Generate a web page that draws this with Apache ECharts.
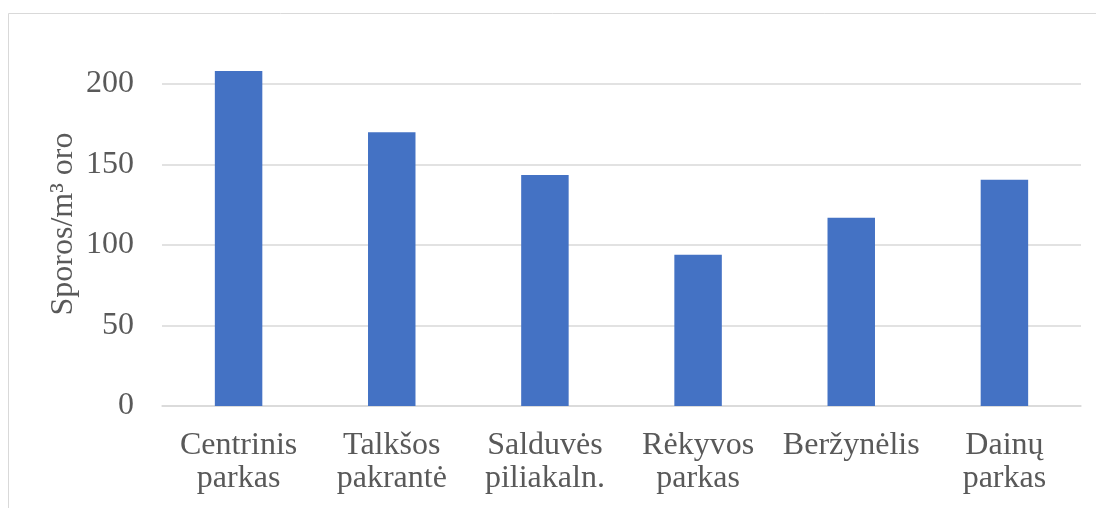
<!DOCTYPE html>
<html>
<head>
<meta charset="utf-8">
<script src="https://cdn.jsdelivr.net/npm/echarts@6/dist/echarts.min.js"></script>
<style>
  html, body { margin: 0; padding: 0; background: #fff; }
  #chart { width: 1096px; height: 508px; }
</style>
</head>
<body>
<div id="chart"></div>
<script>
// Spore concentration per cubic metre of air at six city sites
const categories = ['Centrinis\nparkas', 'Talkšos\npakrantė', 'Salduvės\npiliakaln.', 'Rėkyvos\nparkas', 'Beržynėlis', 'Dainų\nparkas'];
const spores = [208, 170, 143.5, 94, 117, 140.5];
const yTicks = { min: 0, max: 200, interval: 50 };
const yTitle = 'Sporos/m³ oro';

const textColor = '#595959';
const gridColor = '#D9D9D9';
const font = '"Liberation Serif", "Times New Roman", serif';

const chart = echarts.init(document.getElementById('chart'), null, { renderer: 'canvas' });
chart.setOption({
  animation: false,
  backgroundColor: '#ffffff',
  grid: { left: 162, right: 15, top: 84, bottom: 102, containLabel: false },
  graphic: [
    {
      type: 'rect',
      shape: { x: 8.5, y: 13.5, width: 1200, height: 600 },
      style: { fill: 'none', stroke: gridColor, lineWidth: 1 },
      silent: true, z: -1
    },
    {
      type: 'text',
      x: 64, y: 224,
      rotation: Math.PI / 2,
      style: {
        text: yTitle,
        font: '32px ' + font,
        fill: textColor,
        align: 'center',
        verticalAlign: 'middle'
      }
    }
  ],
  xAxis: {
    type: 'category',
    data: categories,
    axisLine: { show: true, lineStyle: { color: gridColor, width: 1.5 } },
    axisTick: { show: false },
    axisLabel: {
      color: textColor, fontFamily: font, fontSize: 32, lineHeight: 33,
      margin: 23, interval: 0
    }
  },
  yAxis: {
    type: 'value',
    min: yTicks.min, max: yTicks.max, interval: yTicks.interval,
    axisLine: { show: false },
    axisTick: { show: false },
    splitLine: { lineStyle: { color: gridColor, width: 1.5 } },
    axisLabel: { color: textColor, fontFamily: font, fontSize: 32, margin: 28 }
  },
  series: [{
    type: 'bar',
    data: spores,
    clip: false,
    barWidth: '31%',
    itemStyle: { color: '#4472C4' }
  }]
});
</script>
</body>
</html>
